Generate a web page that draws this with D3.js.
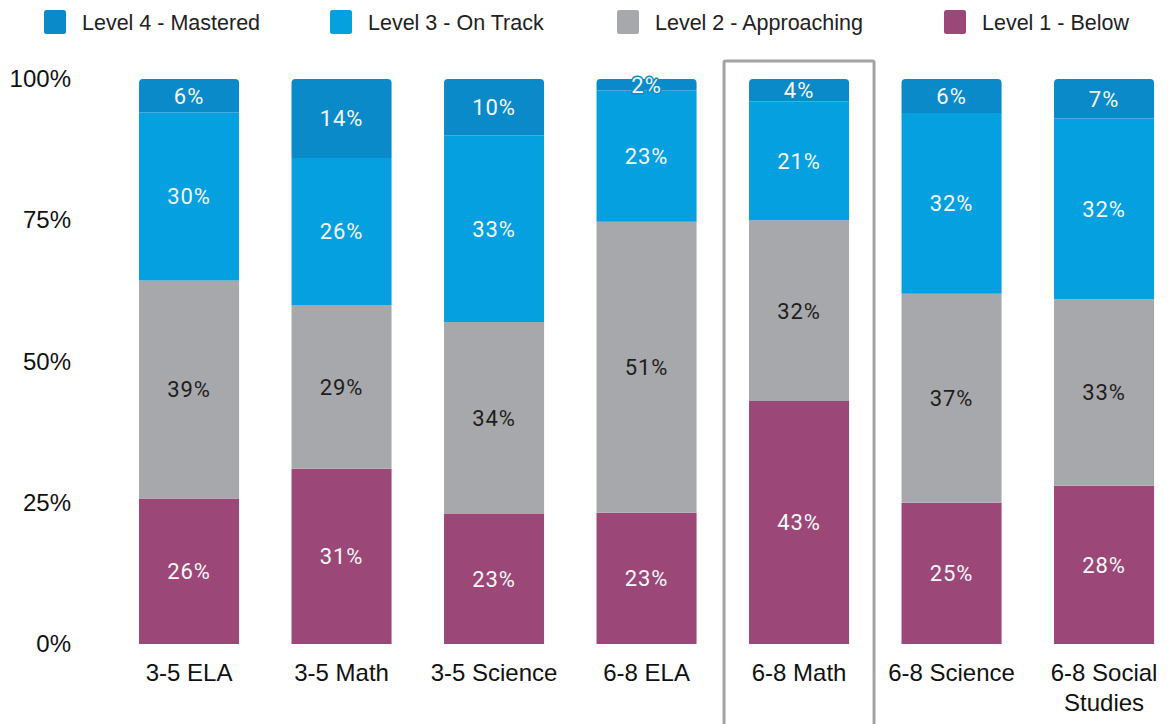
<!DOCTYPE html>
<html>
<head>
<meta charset="utf-8">
<script src="https://cdn.jsdelivr.net/npm/d3@7"></script>
<style>
  html, body { margin: 0; padding: 0; background: #fff; }
  svg { display: block; }
</style>
</head>
<body>
<svg id="chart" width="1170" height="724"></svg>
<script>
// Proficiency levels by grade band and subject (percent of students)
const categories = ["3-5 ELA", "3-5 Math", "3-5 Science", "6-8 ELA", "6-8 Math", "6-8 Science", "6-8 Social Studies"];
const level1 = [26, 31, 23, 23, 43, 25, 28];
const level2 = [39, 29, 34, 51, 32, 37, 33];
const level3 = [30, 26, 33, 23, 21, 32, 32];
const level4 = [6, 14, 10, 2, 4, 6, 7];
const levelNames = ["Level 1 - Below", "Level 2 - Approaching", "Level 3 - On Track", "Level 4 - Mastered"];
const levelColors = ["#9b4778", "#a7a8ab", "#05a0df", "#0a8ac9"];
const levelTextColors = ["#f7f7f7", "#1e1e1e", "#f7f7f7", "#f7f7f7"];
const yTicks = [0, 0.25, 0.5, 0.75, 1];
const highlighted = "6-8 Math";

const keys = ["l1", "l2", "l3", "l4"];
const rows = categories.map((c, i) => ({ cat: c, l1: level1[i], l2: level2[i], l3: level3[i], l4: level4[i] }));

const svg = d3.select("#chart");
const plot = { top: 79, bottom: 644 };

const x = d3.scaleBand()
  .domain(categories)
  .range([112.8, 1180.3])
  .paddingInner(0.344)
  .paddingOuter(0.172);

const y = d3.scaleLinear().domain([0, 1]).range([plot.bottom, plot.top]);

// Each column is drawn as a 100% stack
const series = d3.stack().keys(keys).offset(d3.stackOffsetExpand)(rows);

// Y axis labels
const yAxis = d3.axisLeft(y).tickValues(yTicks).tickFormat(d3.format(".0%")).tickSize(0).tickPadding(0);
const gy = svg.append("g").attr("transform", "translate(71,0)").call(yAxis);
gy.select(".domain").remove();
gy.selectAll("text")
  .attr("font-family", "'Liberation Sans', Arial, sans-serif")
  .attr("font-size", 24)
  .attr("fill", "#111");

// Rect path with rounded top corners only
function topRounded(x0, y0, w, h, r) {
  r = Math.min(r, h, w / 2);
  return `M${x0},${y0 + h}V${y0 + r}Q${x0},${y0} ${x0 + r},${y0}H${x0 + w - r}Q${x0 + w},${y0} ${x0 + w},${y0 + r}V${y0 + h}Z`;
}

const bw = x.bandwidth();
const layers = svg.append("g").selectAll("g")
  .data(series).join("g")
  .attr("fill", (d, i) => levelColors[i]);

layers.selectAll("path")
  .data(d => d.map(s => ({ s, key: d.key })))
  .join("path")
  .attr("d", d => {
    const x0 = x(d.s.data.cat);
    const y0 = y(d.s[1]), y1 = y(d.s[0]);
    const isTop = d.key === "l4";
    return isTop ? topRounded(x0, y0, bw, y1 - y0, 4) : `M${x0},${y0}H${x0 + bw}V${y1}H${x0}Z`;
  });

// Segment value labels
const labels = svg.append("g");
series.forEach((ser, li) => {
  labels.selectAll(null)
    .data(ser)
    .join("text")
    .attr("x", d => x(d.data.cat) + bw / 2)
    .attr("y", d => (y(d[0]) + y(d[1])) / 2)
    .attr("dy", "0.36em")
    .attr("text-anchor", "middle")
    .attr("font-family", "Roboto, 'Noto Sans', sans-serif")
    .attr("font-size", 22)
    .attr("letter-spacing", 1)
    .attr("fill", levelTextColors[li])
    .attr("stroke", levelColors[li])
    .attr("stroke-width", 3)
    .attr("stroke-linejoin", "round")
    .attr("paint-order", "stroke")
    .text(d => d.data[ser.key] + "%");
});

// Category labels (wrap long names onto two lines)
const xl = svg.append("g")
  .attr("font-family", "'Liberation Sans', Arial, sans-serif")
  .attr("font-size", 24)
  .attr("fill", "#111")
  .attr("text-anchor", "middle");
categories.forEach(c => {
  const t = xl.append("text").attr("x", x(c) + bw / 2).attr("y", 681);
  const words = c.split(" ");
  if (words.length > 2) {
    t.append("tspan").attr("x", x(c) + bw / 2).text(words.slice(0, 2).join(" "));
    t.append("tspan").attr("x", x(c) + bw / 2).attr("dy", 30).text(words.slice(2).join(" "));
  } else {
    t.text(c);
  }
});

// Highlight frame around the selected column
const hx = x(highlighted) + bw / 2;
svg.append("rect")
  .attr("x", hx - 75)
  .attr("y", 61)
  .attr("width", 150)
  .attr("height", 700)
  .attr("fill", "none")
  .attr("stroke", "#a3a3a3")
  .attr("stroke-width", 3)
  .attr("rx", 1.5);

// Legend (top level first)
const legendOrder = [3, 2, 1, 0];
const legendX = [44, 330, 617, 944];
const lg = svg.append("g");
legendOrder.forEach((li, k) => {
  const g = lg.append("g").attr("transform", `translate(${legendX[k]},10)`);
  g.append("rect").attr("width", 22).attr("height", 24).attr("rx", 2.5).attr("fill", levelColors[li]);
  g.append("text")
    .attr("x", 38).attr("y", 12).attr("dy", "0.36em")
    .attr("font-family", "'Liberation Sans', Arial, sans-serif")
    .attr("font-size", 21.5)
    .attr("fill", "#222")
    .text(levelNames[li]);
});
</script>
</body>
</html>
